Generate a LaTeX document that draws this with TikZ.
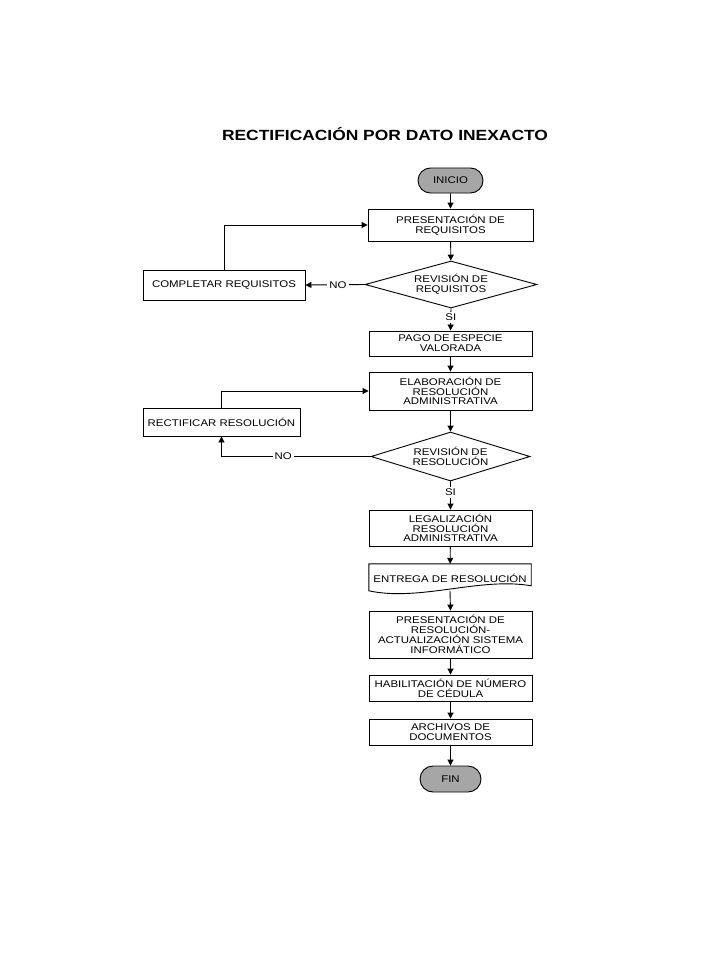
\documentclass[tikz,border=0pt]{standalone}
\usepackage{fontspec}
\setmainfont{Liberation Sans}[FakeStretch=1.18]
\usetikzlibrary{shapes.geometric,shapes.misc,arrows.meta,calc}
\tikzset{
  base/.style={font=\fontsize{9.7}{9.8}\selectfont, align=center, inner sep=0pt, text=black},
  box/.style={base, draw, line width=0.9pt, minimum width=163pt},
  term/.style={base, draw, line width=0.9pt, rounded rectangle, fill=black!35, minimum width=63pt, minimum height=25pt},
  decision/.style={base, draw, line width=0.9pt, diamond, aspect=3.6},
  flow/.style={line width=0.9pt, -{Triangle[length=6pt,width=6pt]}},
  lbl/.style={base, fill=white, inner sep=2pt},
}
\begin{document}
\begin{tikzpicture}[x=1pt,y=-1pt]
\useasboundingbox (0,0) rectangle (720,960);
\node[base, font=\fontsize{14.75}{14.75}\selectfont\bfseries] (title) at (385,134) {RECTIFICACIÓN POR DATO INEXACTO};

\node[term, minimum width=65pt] (ini) at (450.5,180.5) {INICIO};
\node[box, minimum width=165pt, minimum height=32pt] (pres) at (450.5,225) {PRESENTACIÓN DE\\REQUISITOS};
\node[decision, minimum width=172pt, minimum height=47pt] (d1) at (451,284.5) {REVISIÓN DE\\REQUISITOS};
\node[box, minimum width=162pt, minimum height=30pt] (comp) at (224,285) {COMPLETAR REQUISITOS};
\node[box, minimum height=25pt] (pago) at (450.5,343.5) {PAGO DE ESPECIE\\VALORADA};
\node[box, minimum height=38pt] (elab) at (450.5,391) {ELABORACIÓN DE\\RESOLUCIÓN\\ADMINISTRATIVA};
\node[box, minimum width=157pt, minimum height=28pt] (rect) at (221.5,422) {RECTIFICAR RESOLUCIÓN};
\node[decision, minimum width=159pt, minimum height=49pt] (d2) at (450.5,456.5) {REVISIÓN DE\\RESOLUCIÓN};
\node[box, minimum height=36pt] (leg) at (450.5,528) {LEGALIZACIÓN\\RESOLUCIÓN\\ADMINISTRATIVA};
\node[base, minimum width=162pt, minimum height=28pt] (ent) at (450,578) {ENTREGA DE RESOLUCIÓN};
\draw[line width=0.9pt] (ent.north west) -- (ent.north east) -- ($(ent.north east)+(0,22)$)
  .. controls ($(ent.north east)+(-51,13)$) and ($(ent.north west)+(51,38)$) .. ($(ent.north west)+(0,27)$) -- cycle;
\node[box, minimum height=47pt] (pres2) at (450.5,634.5) {PRESENTACIÓN DE\\RESOLUCIÓN-\\ACTUALIZACIÓN SISTEMA\\INFORMÁTICO};
\node[box, minimum height=26pt] (hab) at (450.5,688) {HABILITACIÓN DE NÚMERO\\DE CÉDULA};
\node[box, minimum height=26pt] (arch) at (450.5,732) {ARCHIVOS DE\\DOCUMENTOS};
\node[term, minimum width=61pt, minimum height=26pt] (fin) at (450.5,779) {FIN};

\draw[flow] (ini) -- (pres);
\draw[flow] (pres) -- (d1);
\draw[flow] (d1.west) -- node[lbl, pos=0.45] {NO} (comp.east);
\draw[flow] (comp.north) |- (pres.west);
\draw[flow] (d1.south) -- node[lbl, pos=0.4] {SI} (pago.north);
\draw[flow] (pago) -- (elab);
\draw[flow] (elab) -- (d2);
\draw[flow] (d2.west) -| node[lbl, pos=0.293] {NO} (rect.south);
\draw[flow] (rect.north) |- (elab.west);
\draw[flow] (d2.south) -- node[lbl, pos=0.38] {SI} (leg.north);
\draw[flow] (leg) -- (ent);
\draw[flow] ($(ent.north)+(0,27)$) -- (pres2.north);
\draw[flow] (pres2) -- (hab);
\draw[flow] (hab) -- (arch);
\draw[flow] (arch) -- (fin);
\end{tikzpicture}
\end{document}
